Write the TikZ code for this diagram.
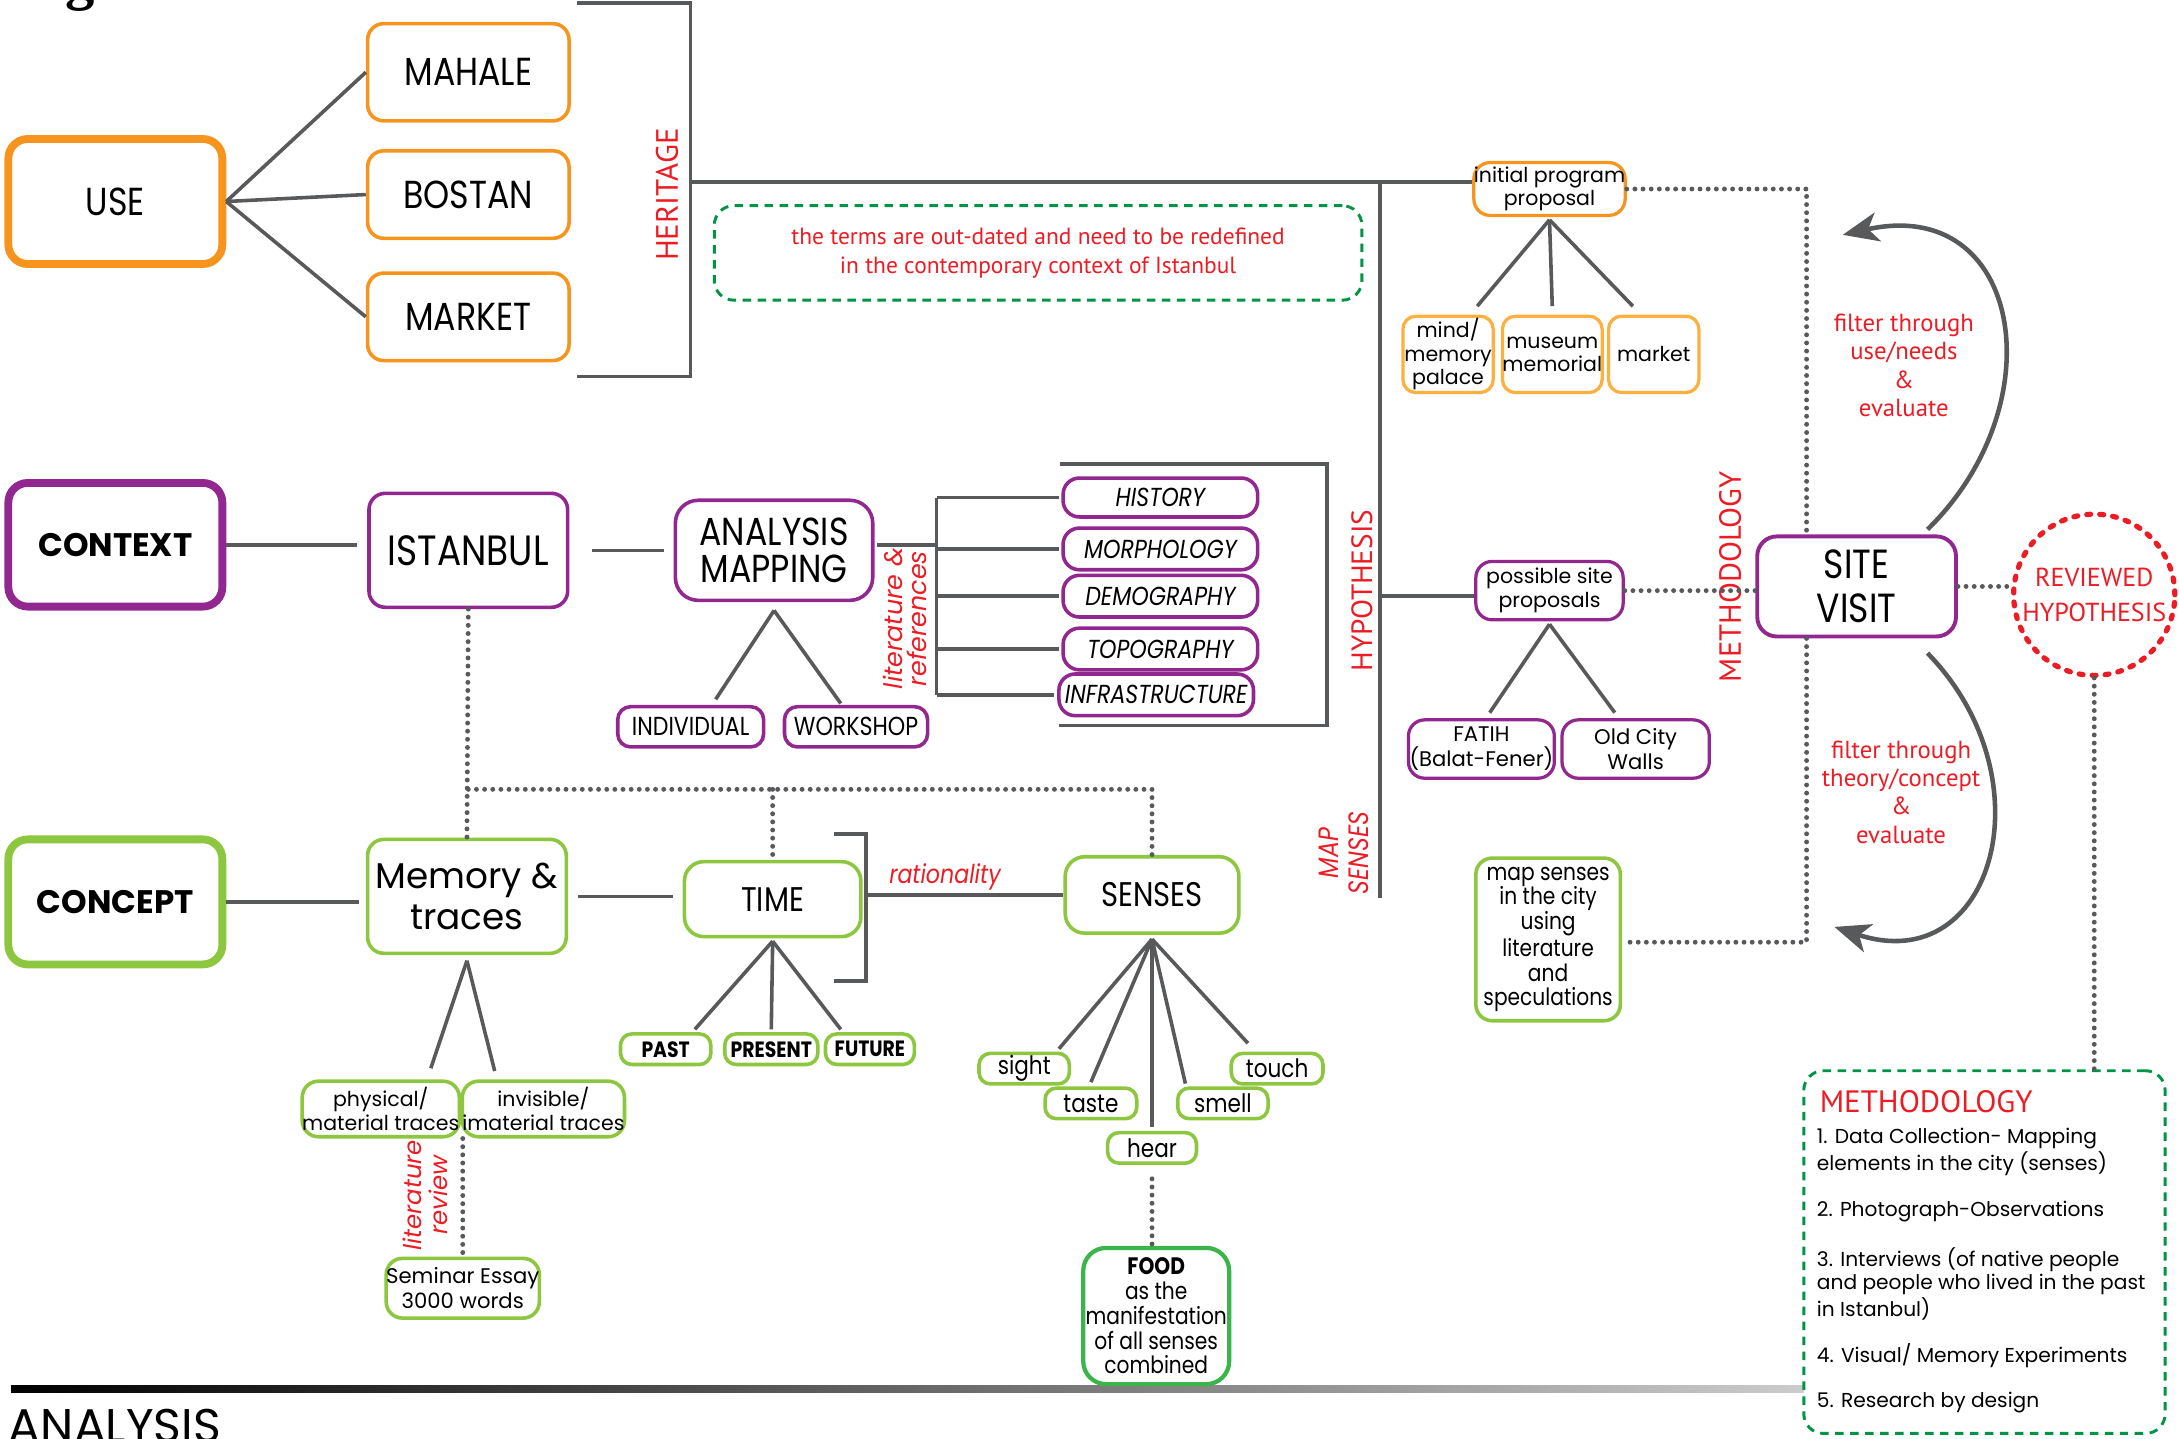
\documentclass[tikz,border=0pt]{standalone}
\usepackage{fontspec}
\setmainfont{Poppins}
\newfontfamily\gN[FakeStretch=0.85]{Poppins}
\newfontfamily\myr{PT Sans}
\newfontfamily\serifg{Liberation Serif}
\usetikzlibrary{arrows.meta}
\definecolor{cOr}{HTML}{F7941D}
\definecolor{cOrL}{HTML}{FBB040}
\definecolor{cPu}{HTML}{92278F}
\definecolor{cGr}{HTML}{8DC63F}
\definecolor{cGrD}{HTML}{39B54A}
\definecolor{cDash}{HTML}{009444}
\definecolor{cRed}{HTML}{ED1C24}
\definecolor{cLn}{HTML}{58595B}
\newcommand\fsz[2]{\fontsize{#1}{#2}\selectfont}
\begin{document}
\begin{tikzpicture}[x=0.015cm,y=-0.015cm,
  box/.style={draw, rounded corners=5pt, line width=1.1pt, inner sep=0pt, align=center, fill=white, text=black},
  sbox/.style={box, rounded corners=3.5pt},
  tbox/.style={box, line width=2.4pt, rounded corners=6pt},
  bx/.style 2 args={minimum width=#1*0.015cm, minimum height=#2*0.015cm},
  ln/.style={draw=cLn, line width=1.1pt},
  dot/.style={draw=cLn, line width=1.5pt, line cap=round, dash pattern=on 0pt off 2.5pt},
  gdash/.style={draw=cDash, line width=0.9pt, dash pattern=on 2.6pt off 2pt, rounded corners=6pt},
  rtxt/.style={text=cRed, inner sep=0pt, align=center},
  curv/.style={draw=cLn, line width=1.4pt, -{Stealth[length=11pt,width=9pt,inset=3pt]}},
]
\useasboundingbox (0,0) rectangle (1568,1035);

% fragment of a title above the picture
\node[anchor=base west, inner sep=0pt, font={\serifg\bfseries\fsz{18}{18}}] (gfrag) at (47,-1) {g};

% bottom bar and label
\shade[left color=black, middle color=black!50, right color=black!4] (8,997) rectangle (1560,1002);
\node[anchor=base west, inner sep=0pt, font={\fsz{14.5}{16}}] (analysislbl) at (6,1038) {ANALYSIS};

% ---------------- USE ----------------
\node[tbox, draw=cOr, bx={154}{90}, font={\gN\fsz{12}{14}}] (use) at (83,145) {USE};
\node[box, draw=cOr, bx={145}{70}, font={\gN\fsz{12}{14}}] (mahale) at (337,52) {MAHALE};
\node[box, draw=cOr, bx={145}{63}, font={\gN\fsz{12}{14}}] (bostan) at (337,140) {BOSTAN};
\node[box, draw=cOr, bx={145}{63}, font={\gN\fsz{12}{14}}] (market) at (337,228) {MARKET};
\draw[ln] (use.east) -- (mahale.west);
\draw[ln] (use.east) -- (bostan.west);
\draw[ln] (use.east) -- (market.west);
\draw[ln] (415,2) -- (497,2) -- (497,271) -- (415,271);
\node[rtxt, rotate=90, font={\myr\fsz{9.5}{10}}] (heritage) at (480,140) {HERITAGE};

\node[gdash, bx={466}{68}, inner sep=0pt, align=center, text=cRed, font={\myr\fsz{7.2}{9}}] (terms) at (747,182)
  {the terms are out-dated and need to be redefined\\in the contemporary context of Istanbul};

% ---------------- hypothesis column ----------------
\node[box, draw=cOr, line width=1pt, bx={106}{38}, font={\fsz{6.3}{7}}] (initprog) at (1115,136) {initial program\\proposal};
\node[box, draw=cOrL, line width=1pt, rounded corners=4pt, bx={65}{55}, font={\fsz{6.3}{7.2}}] (mind) at (1042,255) {mind/\\memory\\palace};
\node[box, draw=cOrL, line width=1pt, rounded corners=4pt, bx={65}{55}, font={\fsz{6.3}{7.2}}] (museum) at (1117,255) {museum\\memorial};
\node[box, draw=cOrL, line width=1pt, rounded corners=4pt, bx={65}{55}, font={\fsz{6.3}{7.2}}] (mkt) at (1190,255) {market};
\draw[ln] (497,131) -- ([yshift=0.075cm]initprog.west);
\draw[ln] (993,131) -- (993,646);
\draw[ln] ([yshift=-0.03cm]initprog.south) -- ([xshift=0.315cm,yshift=0.09cm]mind.north);
\draw[ln] ([yshift=-0.03cm]initprog.south) -- ([yshift=0.09cm]museum.north);
\draw[ln] ([yshift=-0.03cm]initprog.south) -- ([xshift=-0.225cm,yshift=0.09cm]mkt.north);

\node[box, draw=cPu, line width=1pt, bx={106}{42}, font={\fsz{6.3}{7.3}}] (possible) at (1115,425) {possible site\\proposals};
\node[box, draw=cPu, line width=1pt, bx={105}{42}, font={\fsz{6.5}{7.7}}] (fatih) at (1066,539) {FATIH\\(Balat-Fener)};
\node[box, draw=cPu, line width=1pt, bx={106}{42}, font={\fsz{6.5}{7.7}}] (oldcity) at (1177,539) {Old City\\Walls};
\draw[ln] (993,429) -- ([yshift=-0.06cm]possible.west);
\draw[ln] ([yshift=-0.03cm]possible.south) -- ([xshift=0.09cm,yshift=0.06cm]fatih.north);
\draw[ln] ([yshift=-0.03cm]possible.south) -- ([xshift=-0.225cm,yshift=0.06cm]oldcity.north);
\node[rtxt, rotate=90, font={\myr\fsz{9}{10}}] (hyp) at (980,425) {HYPOTHESIS};

\node[box, draw=cGr, line width=1.1pt, bx={104}{117}, font={\gN\fsz{7.3}{7.5}}] (mapsenses) at (1114,676)
  {map senses\\in the city\\using\\literature\\and\\speculations};
\node[rtxt, rotate=90, font={\gN\itshape\fsz{8.6}{9}}] (mapsl) at (967,614) {MAP\\SENSES};

% ---------------- site visit ----------------
\node[box, draw=cPu, line width=1.2pt, rounded corners=6pt, bx={143}{72}, font={\gN\fsz{12.5}{13.7}}] (site) at (1336,422) {SITE\\VISIT};
\node[rtxt, rotate=90, font={\myr\fsz{9.4}{10}}] (methl) at (1245,415) {METHODOLOGY};
\node[circle, draw=cRed, line width=1.6pt, dash pattern=on 1.2pt off 2.8pt, line cap=round,
      minimum size=1.74cm, inner sep=0pt, align=center, text=cRed, font={\myr\fsz{8}{10.7}}] (rev) at (1507,428) {REVIEWED\\HYPOTHESIS};
\draw[dot] (possible.east) -- (possible.east -| site.west);
\draw[dot] (site.east) -- (site.east -| rev.west);
\draw[dot] (initprog.east) -| ([xshift=-0.54cm]site.north);
\draw[dot] ([xshift=-0.54cm]site.south) |- ([yshift=-0.03cm]mapsenses.east);

\coordinate (c1s) at (1387,381);
\coordinate (c1e) at (1326,169);
\draw[curv] (c1s) .. controls (1480,290) and (1455,140) .. (c1e);
\node[rtxt, font={\myr\fsz{7.6}{8.7}}] (filt1) at (1370,263) {filter through\\use/needs\\\&\\evaluate};
\coordinate (c2s) at (1387,470);
\coordinate (c2e) at (1320,667);
\draw[curv] (c2s) .. controls (1475,560) and (1435,705) .. (c2e);
\node[rtxt, font={\myr\fsz{7.6}{8.7}}] (filt2) at (1368,570) {filter through\\theory/concept\\\&\\evaluate};

% methodology box
\node[gdash, fill=white, bx={260}{261}, inner sep=0pt] (methbox) at (1428,901) {};
\draw[dot] (rev.south) -- (rev.south |- methbox.north);
\node[anchor=west, rtxt, font={\myr\fsz{9.5}{11}}] (methhead) at (1309,793) {METHODOLOGY};
\node[anchor=north west, align=left, inner sep=0pt, font={\fsz{6.2}{7}}] (methlist) at (1307,811)
  {1. Data Collection- Mapping\\elements in the city (senses)\\[7pt]2. Photograph-Observations\\[7pt]3. Interviews (of native people\\and people who lived in the past\\in Istanbul)\\[7pt]4. Visual/ Memory Experiments\\[7pt]5. Research by design};

% ---------------- CONTEXT ----------------
\node[tbox, draw=cPu, bx={154}{89}, font={\bfseries\fsz{10}{12}}] (context) at (83,392) {CONTEXT};
\node[box, draw=cPu, bx={143}{82}, font={\gN\fsz{13}{14}}] (istanbul) at (337,396) {ISTANBUL};
\node[box, draw=cPu, bx={142}{72}, rounded corners=7pt, font={\gN\fsz{12}{11.5}}] (analysis) at (557,396) {ANALYSIS\\MAPPING};
\node[box, draw=cPu, bx={105}{29}, rounded corners=4pt, font={\gN\fsz{8}{9}}] (individual) at (497,523) {INDIVIDUAL};
\node[box, draw=cPu, bx={103}{29}, rounded corners=4pt, font={\gN\fsz{8}{9}}] (workshop) at (616,523) {WORKSHOP};
\draw[ln, shorten >=3pt] (context.east) -- (context.east -| istanbul.west);
\draw[ln, shorten <=7pt, shorten >=3pt] (istanbul.east) -- (istanbul.east -| analysis.west);
\draw[ln] ([yshift=-0.09cm]analysis.south) -- ([xshift=0.27cm,yshift=0.06cm]individual.north);
\draw[ln] ([yshift=-0.09cm]analysis.south) -- ([xshift=-0.165cm,yshift=0.015cm]workshop.north);

\node[box, draw=cPu, bx={140}{28}, rounded corners=5pt, font={\gN\itshape\fsz{8}{9}}] (history) at (835,358) {HISTORY};
\node[box, draw=cPu, bx={140}{30}, rounded corners=5pt, font={\gN\itshape\fsz{8}{9}}] (morph) at (835,395) {MORPHOLOGY};
\node[box, draw=cPu, bx={140}{30}, rounded corners=5pt, font={\gN\itshape\fsz{8}{9}}] (demog) at (835,429) {DEMOGRAPHY};
\node[box, draw=cPu, bx={140}{30}, rounded corners=5pt, font={\gN\itshape\fsz{8}{9}}] (topog) at (835,467) {TOPOGRAPHY};
\node[box, draw=cPu, bx={140}{30}, rounded corners=5pt, font={\gN\itshape\fsz{8}{9}}] (infra) at (832,500) {INFRASTRUCTURE};
\coordinate (trunk) at (674,392);
\draw[ln] ([xshift=0.03cm]analysis.east |- trunk) -- (trunk);
\draw[ln] (trunk |- history.west) -- (trunk |- infra.west);
\foreach \b in {history,morph,demog,topog,infra}{
  \draw[ln] (trunk |- \b.west) -- ([xshift=-0.03cm]\b.west);
}
\draw[ln] (763,334) -- (955,334) -- (955,522) -- (762,522);
\node[rtxt, rotate=90, font={\itshape\fsz{7.8}{7.5}}] (litref) at (651,445) {literature \&\\references};

% ---------------- CONCEPT ----------------
\node[tbox, draw=cGr, bx={154}{90}, font={\bfseries\fsz{10}{12}}] (concept) at (83,649) {CONCEPT};
\node[box, draw=cGr, bx={143}{82}, font={\fsz{11}{12.8}}] (memory) at (336,645) {Memory \&\\traces};
\node[box, draw=cGr, bx={127}{54}, rounded corners=6pt, font={\gN\fsz{10.5}{12}}] (time) at (556,647) {TIME};
\node[box, draw=cGr, bx={125}{55}, rounded corners=6pt, font={\gN\fsz{10.5}{12}}] (senses) at (829,644) {SENSES};
\draw[ln, shorten >=2pt] (concept.east) -- (concept.east -| memory.west);
\draw[ln, shorten <=3pt, shorten >=3pt] (memory.east) -- (memory.east -| time.west);
\draw[ln] (600,600) -- (623,600) -- (623,706) -- (600,706);
\draw[ln] (senses.west -| 623,0) -- (senses.west);
\node[rtxt, font={\gN\itshape\fsz{8}{9}}] (ration) at (680,631) {rationality};

\node[sbox, draw=cGr, bx={65}{22}, font={\gN\bfseries\fsz{6.8}{8}}] (past) at (479,755) {PAST};
\node[sbox, draw=cGr, bx={67}{22}, font={\gN\bfseries\fsz{6.8}{8}}] (present) at (555,755) {PRESENT};
\node[sbox, draw=cGr, bx={64}{22}, font={\gN\bfseries\fsz{6.8}{8}}] (future) at (626,755) {FUTURE};
\draw[ln] ([yshift=-0.03cm]time.south) -- ([xshift=0.315cm,yshift=0.03cm]past.north);
\draw[ln] ([yshift=-0.03cm]time.south) -- ([yshift=0.03cm]present.north);
\draw[ln] ([yshift=-0.03cm]time.south) -- ([xshift=-0.315cm,yshift=0.03cm]future.north);

\node[box, draw=cGr, bx={109}{40}, rounded corners=5pt, font={\fsz{6.3}{7.3}}] (physical) at (274,798) {physical/\\material traces};
\node[box, draw=cGr, bx={113}{40}, rounded corners=5pt, font={\fsz{6.3}{7.3}}] (invisible) at (391,798) {invisible/\\imaterial traces};
\draw[ln] ([yshift=-0.06cm]memory.south) -- ([xshift=0.54cm,yshift=0.12cm]physical.north);
\draw[ln] ([yshift=-0.06cm]memory.south) -- ([xshift=-0.525cm,yshift=0.09cm]invisible.north);
\node[box, draw=cGr, bx={105}{43}, rounded corners=5pt, font={\fsz{6.5}{7.7}}] (seminar) at (333,927) {Seminar Essay\\3000 words};
\draw[dot] (seminar.north |- physical.south) -- (seminar.north);
\node[rtxt, rotate=90, font={\itshape\fsz{7.5}{8}}] (litrev) at (306,860) {literature\\review};

\draw[dot] (istanbul.south) -- (memory.north);
\draw[dot] (337,568) -| (senses.north);
\draw[dot] (time.north |- 0,568) -- (time.north);

\node[sbox, draw=cGr, bx={65}{22}, font={\gN\fsz{7.8}{9}}] (sight) at (737,769) {sight};
\node[sbox, draw=cGr, bx={66}{22}, font={\gN\fsz{7.8}{9}}] (taste) at (785,794) {taste};
\node[sbox, draw=cGr, bx={64}{22}, font={\gN\fsz{7.8}{9}}] (hear) at (829,826) {hear};
\node[sbox, draw=cGr, bx={65}{22}, font={\gN\fsz{7.8}{9}}] (smell) at (880,794) {smell};
\node[sbox, draw=cGr, bx={66}{22}, font={\gN\fsz{7.8}{9}}] (touch) at (919,769) {touch};
\draw[ln] ([yshift=-0.045cm]senses.south) -- ([xshift=0.375cm,yshift=0.03cm]sight.north);
\draw[ln] ([yshift=-0.045cm]senses.south) -- ([yshift=0.045cm]taste.north);
\draw[ln] ([yshift=-0.045cm]senses.south) -- ([yshift=0.045cm]hear.north);
\draw[ln] ([yshift=-0.045cm]senses.south) -- ([xshift=-0.405cm,yshift=0.03cm]smell.north);
\draw[ln] ([yshift=-0.045cm]senses.south) -- ([xshift=-0.315cm,yshift=0.09cm]touch.north);
\node[box, draw=cGrD, line width=1.3pt, bx={105}{98}, rounded corners=7pt, font={\gN\fsz{7.3}{7.6}}] (food) at (832,947)
  {\textbf{FOOD}\\as the\\manifestation\\of all senses\\combined};
\draw[dot] ([yshift=-0.15cm]hear.south) -- (hear.south |- food.north);

\end{tikzpicture}
\end{document}
